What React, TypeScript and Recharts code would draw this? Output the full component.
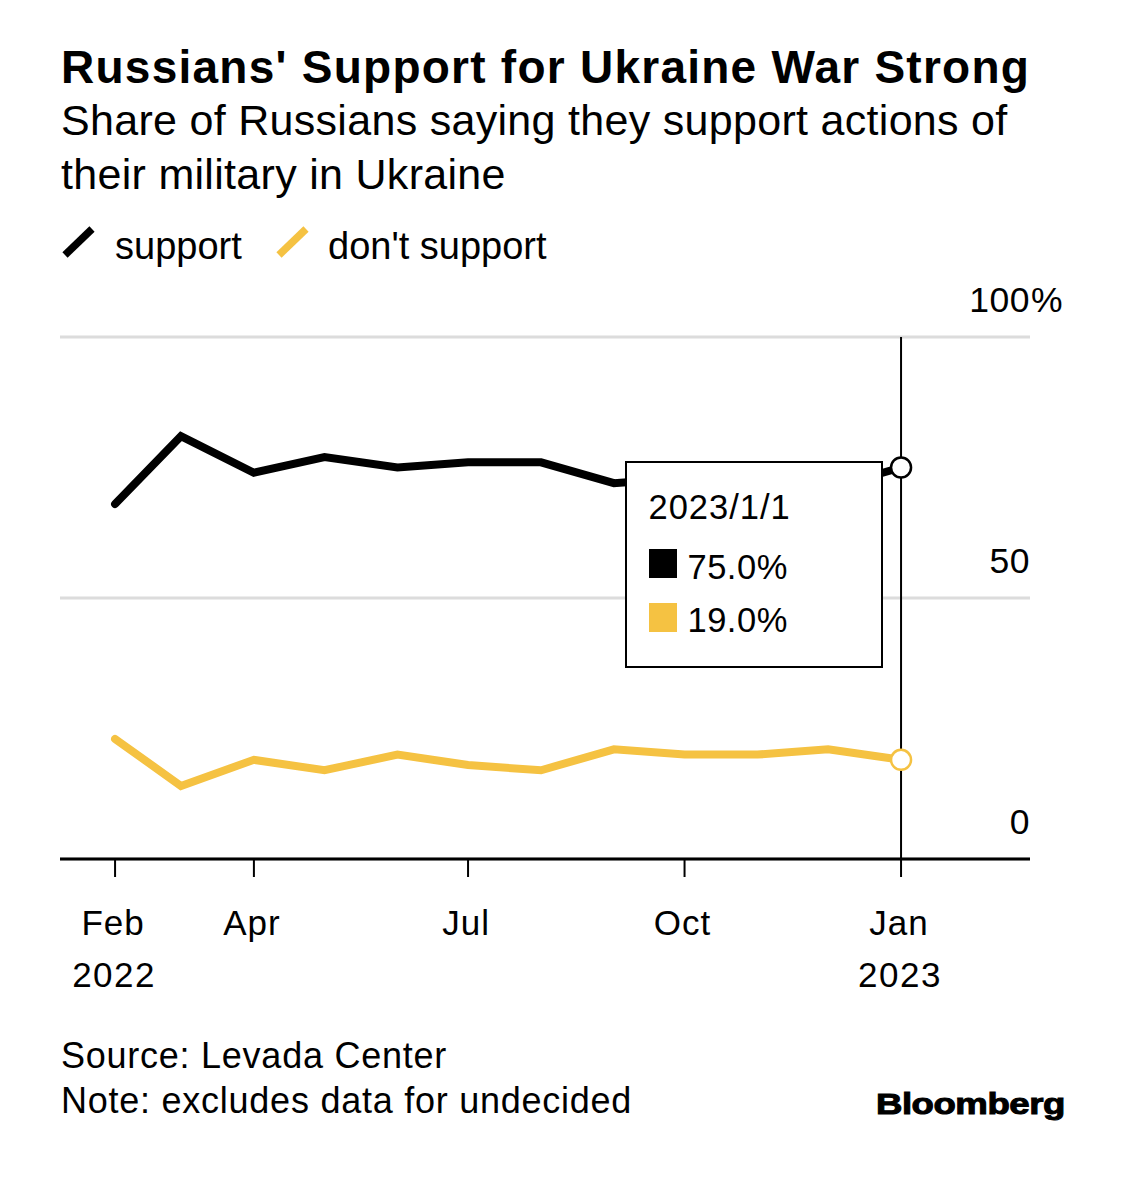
import { LineChart, Line, XAxis, YAxis, CartesianGrid, Tooltip } from "recharts"

const dates = [
  "2022-02-01", "2022-03-01", "2022-04-01", "2022-05-01", "2022-06-01", "2022-07-01",
  "2022-08-01", "2022-09-01", "2022-10-01", "2022-11-01", "2022-12-01", "2023-01-01",
]
const support = [68, 81, 74, 77, 75, 76, 76, 72, 73, 74, 71, 75]
const dontSupport = [23, 14, 19, 17, 20, 18, 17, 21, 20, 20, 21, 19]

const tickDates = ["2022-02-01", "2022-04-01", "2022-07-01", "2022-10-01", "2023-01-01"]
const tickMonths = ["Feb", "Apr", "Jul", "Oct", "Jan"]
const tickYears = ["2022", "", "", "", "2023"]
const yTicks = [0, 50, 100]

const DAY = 86400000
const toTime = (d: string) => new Date(d).getTime()
const data = dates.map((d, i) => ({ date: toTime(d), support: support[i], dontSupport: dontSupport[i] }))
const tickValues = tickDates.map(toTime)
const xDomain = [toTime(dates[0]) - 23.4 * DAY, toTime(dates[dates.length - 1]) + 54.8 * DAY]

const YELLOW = "#f5c242"
const FONT = "'Liberation Sans', Arial, Helvetica, sans-serif"

// div whose text baseline lands at `baseline`
function Txt({ left, baseline, size, children, style }: any) {
  return (
    <div
      style={{
        position: "absolute",
        left,
        top: baseline - 0.8465 * size,
        fontSize: size,
        lineHeight: 1,
        whiteSpace: "nowrap",
        color: "#000",
        ...style,
      }}
    >
      {children}
    </div>
  )
}

function XTick({ x, y, payload }: any) {
  const i = tickValues.indexOf(payload.value)
  return (
    <g>
      <text x={x - 2} y={y + 58} textAnchor="middle" fontSize={35} fill="#000" fontFamily={FONT} letterSpacing={1}>
        {tickMonths[i]}
      </text>
      {tickYears[i] && (
        <text x={x - 1} y={y + 110} textAnchor="middle" fontSize={35} fill="#000" fontFamily={FONT} letterSpacing={1.5}>
          {tickYears[i]}
        </text>
      )}
    </g>
  )
}

function YTick({ x, y, payload }: any) {
  return (
    <g>
      <text x={x} y={y - 25} textAnchor="end" fontSize={35.5} fill="#000" fontFamily={FONT} letterSpacing={0.5}>
        {payload.value}
      </text>
      {payload.value === 100 && (
        <text x={x + 1} y={y - 25} textAnchor="start" fontSize={35.5} fill="#000" fontFamily={FONT}>
          %
        </text>
      )}
    </g>
  )
}

function TipBox({ payload, label }: any) {
  if (!payload || !payload.length) return null
  const d = new Date(label)
  const head = `${d.getUTCFullYear()}/${d.getUTCMonth() + 1}/${d.getUTCDate()}`
  const rows = [
    { color: "#000", value: payload.find((p: any) => p.dataKey === "support")?.value },
    { color: YELLOW, value: payload.find((p: any) => p.dataKey === "dontSupport")?.value },
  ]
  return (
    <div
      style={{
        position: "relative",
        boxSizing: "border-box",
        width: 258,
        height: 207,
        background: "#fff",
        border: "2.5px solid #000",
        fontFamily: FONT,
      }}
    >
      <Txt left={21.5} baseline={56.5} size={34.5} style={{ letterSpacing: 1 }}>
        {head}
      </Txt>
      {rows.map((r, i) => (
        <div key={i}>
          <div
            style={{
              position: "absolute",
              left: 21.5,
              top: 85.5 + i * 54,
              width: 28,
              height: 29,
              background: r.color,
            }}
          />
          <Txt left={60.5} baseline={116.5 + i * 53} size={34.5} style={{ letterSpacing: 0.5 }}>
            {r.value.toFixed(1)}%
          </Txt>
        </div>
      ))}
    </div>
  )
}

export default function App() {
  return (
    <div
      style={{
        position: "absolute",
        left: 0,
        top: 0,
        width: 1125,
        height: 1179,
        background: "#fff",
        fontFamily: FONT,
        overflow: "hidden",
      }}
    >
      <Txt left={61} baseline={83} size={46} style={{ fontWeight: 700, letterSpacing: 1.25 }}>
        Russians' Support for Ukraine War Strong
      </Txt>
      <Txt left={61} baseline={135} size={43} style={{ letterSpacing: 0.3 }}>
        Share of Russians saying they support actions of
      </Txt>
      <Txt left={61} baseline={189} size={43} style={{ letterSpacing: 0.3 }}>
        their military in Ukraine
      </Txt>

      <svg style={{ position: "absolute", left: 0, top: 215 }} width={340} height={60}>
        <line x1={65} y1={40} x2={92} y2={14} stroke="#000" strokeWidth={7.5} />
        <line x1={279} y1={40} x2={306} y2={14} stroke={YELLOW} strokeWidth={7.5} />
      </svg>
      <Txt left={115} baseline={259} size={38}>
        support
      </Txt>
      <Txt left={328} baseline={259} size={38}>
        don't support
      </Txt>

      <div style={{ position: "absolute", left: 0, top: 280 }}>
        <LineChart width={1125} height={740} data={data} margin={{ top: 57, right: 0, left: 60, bottom: 0 }}>
          <CartesianGrid vertical={false} stroke="#dcdcdc" strokeWidth={3} />
          <XAxis
            dataKey="date"
            type="number"
            domain={xDomain}
            ticks={tickValues}
            interval={0}
            height={161}
            tickSize={18}
            tickMargin={0}
            axisLine={{ stroke: "#000", strokeWidth: 3 }}
            tickLine={{ stroke: "#000", strokeWidth: 2 }}
            tick={<XTick />}
          />
          <YAxis
            orientation="right"
            width={95}
            domain={[0, 100]}
            ticks={yTicks}
            axisLine={false}
            tickLine={false}
            tickSize={0}
            tickMargin={0}
            tick={<YTick />}
          />
          <Tooltip
            defaultIndex={11}
            active
            position={{ x: 625, y: 181 }}
            cursor={{ stroke: "#000", strokeWidth: 2 }}
            content={<TipBox />}
            isAnimationActive={false}
          />
          <Line
            type="linear"
            dataKey="support"
            stroke="#000"
            strokeWidth={8}
            strokeLinecap="round"
            dot={false}
            activeDot={{ r: 10, fill: "#fff", stroke: "#000", strokeWidth: 2.5 }}
            isAnimationActive={false}
          />
          <Line
            type="linear"
            dataKey="dontSupport"
            stroke={YELLOW}
            strokeWidth={8}
            strokeLinecap="round"
            dot={false}
            activeDot={{ r: 10, fill: "#fff", stroke: YELLOW, strokeWidth: 2.5 }}
            isAnimationActive={false}
          />
        </LineChart>
      </div>

      <Txt left={61} baseline={1068} size={36} style={{ letterSpacing: 0.75 }}>
        Source: Levada Center
      </Txt>
      <Txt left={61} baseline={1113} size={36} style={{ letterSpacing: 0.75 }}>
        Note: excludes data for undecided
      </Txt>
      <Txt
        left={876}
        baseline={1114}
        size={30}
        style={{
          fontWeight: 700,
          letterSpacing: -0.4,
          transform: "scaleX(1.22)",
          transformOrigin: "left",
          WebkitTextStroke: "1px #000",
        }}
      >
        Bloomberg
      </Txt>
    </div>
  )
}
